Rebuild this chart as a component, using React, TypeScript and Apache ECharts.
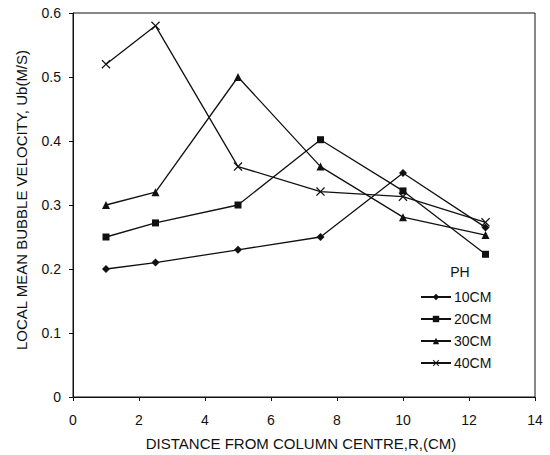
import React, { useEffect, useRef } from "react";
import * as echarts from "echarts";

const xValues = [1, 2.5, 5, 7.5, 10, 12.5];
const seriesNames = ["10CM", "20CM", "30CM", "40CM"];
const ph10 = [0.2, 0.21, 0.23, 0.25, 0.35, 0.265];
const ph20 = [0.25, 0.272, 0.3, 0.402, 0.322, 0.223];
const ph30 = [0.3, 0.32, 0.5, 0.36, 0.281, 0.253];
const ph40 = [0.52, 0.58, 0.36, 0.321, 0.313, 0.273];
const xTitle = "DISTANCE FROM COLUMN CENTRE,R,(CM)";
const yTitle = "LOCAL MEAN BUBBLE VELOCITY, Ub(M/S)";
const legendTitle = "PH";

const crossSymbol =
  "path://M0,1 L1,0 L5,4 L9,0 L10,1 L6,5 L10,9 L9,10 L5,6 L1,10 L0,9 L4,5 Z";
const symbols = ["diamond", "rect", "triangle", crossSymbol];
const symbolSizes = [8, 7, 8, 9];

export default function App() {
  const ref = useRef<HTMLDivElement>(null);
  useEffect(() => {
    document.body.style.margin = "0";
    if (!ref.current) return;
    const chart = echarts.init(ref.current, null, { renderer: "svg" });
    const all = [ph10, ph20, ph30, ph40];
    const font = "Liberation Sans, Arial, sans-serif";
    chart.setOption({
      animation: false,
      backgroundColor: "#fff",
      textStyle: { fontFamily: font, color: "#111" },
      grid: {
        left: 73,
        right: 15,
        top: 13,
        bottom: 58,
        show: true,
        borderColor: "#111",
        borderWidth: 1,
      },
      xAxis: {
        type: "value",
        min: 0,
        max: 14,
        interval: 2,
        axisLine: { show: true, lineStyle: { color: "#111", width: 1 } },
        axisTick: { show: true, length: 4, lineStyle: { color: "#111" } },
        axisLabel: { fontSize: 14, color: "#111", margin: 16, fontFamily: font },
        splitLine: { show: false },
      },
      yAxis: {
        type: "value",
        min: 0,
        max: 0.6,
        interval: 0.1,
        axisLine: { show: true, lineStyle: { color: "#111", width: 1 } },
        axisTick: { show: true, length: 4, lineStyle: { color: "#111" } },
        axisLabel: { fontSize: 14, color: "#111", margin: 12, fontFamily: font },
        splitLine: { show: false },
      },
      legend: {
        orient: "vertical",
        left: 415,
        top: 285,
        itemWidth: 30,
        itemHeight: 8,
        itemGap: 8,
        data: seriesNames,
        textStyle: { fontSize: 14, color: "#111", fontFamily: font, padding: [0, 0, 0, -2] },
      },
      graphic: [
        {
          type: "text",
          x: 460,
          y: 272,
          style: {
            text: legendTitle,
            fontSize: 14,
            fill: "#111",
            fontFamily: font,
            align: "center",
            verticalAlign: "middle",
          },
        },
        {
          type: "text",
          x: 301,
          y: 443,
          style: {
            text: xTitle,
            fontSize: 15,
            fill: "#111",
            fontFamily: font,
            align: "center",
            verticalAlign: "middle",
          },
        },
        {
          type: "text",
          x: 21,
          y: 200,
          rotation: Math.PI / 2,
          style: {
            text: yTitle,
            fontSize: 15,
            fill: "#111",
            fontFamily: font,
            align: "center",
            verticalAlign: "middle",
          },
        },
      ],
      series: seriesNames.map((name, i) => ({
        name,
        type: "line",
        data: xValues.map((x, j) => [x, all[i][j]]),
        symbol: symbols[i],
        symbolSize: symbolSizes[i],
        showSymbol: true,
        lineStyle: { color: "#111", width: 1.3 },
        itemStyle: { color: "#111", borderColor: "#111", borderWidth: 0 },
      })),
    });
    return () => chart.dispose();
  }, []);
  return <div ref={ref} style={{ width: 550, height: 455 }} />;
}
